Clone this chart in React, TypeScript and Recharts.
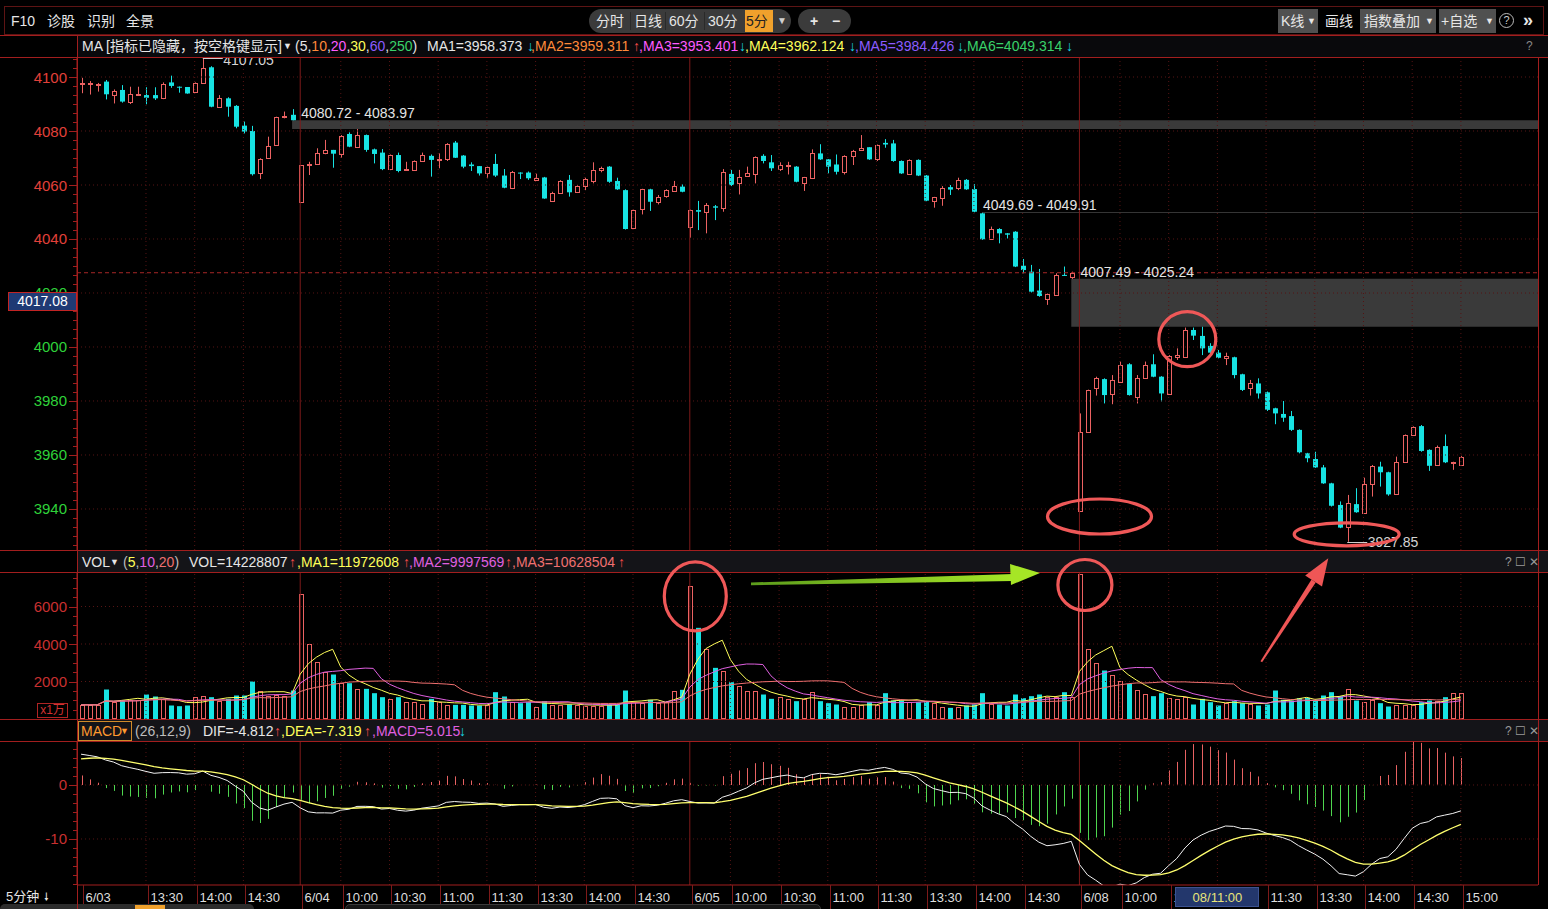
import React from 'react';
import { ComposedChart, Bar, Line, XAxis, YAxis, ReferenceLine, ReferenceArea, ReferenceDot } from 'recharts';

// ---------------- data (5-minute bars, 6/03 11:20 .. 6/08 15:00) ----------------
const opens = [
  4097.5, 4097.5, 4097.3, 4098.3, 4093.3, 4095.2, 4090.6, 4093.4, 4093.3, 4093.3,
  4092.1, 4098.0, 4096.4, 4096.3, 4094.6, 4097.7, 4103.6, 4089.0, 4092.1, 4089.3,
  4082.0, 4080.0, 4064.3, 4070.1, 4074.8, 4085.4, 4086.0,
  4053.6, 4067.4, 4067.8, 4071.7, 4073.0, 4071.5, 4078.9, 4074.0, 4078.5, 4073.2,
  4072.0, 4065.8, 4071.1, 4065.6, 4065.6, 4068.9, 4070.8, 4069.1, 4069.6, 4075.7,
  4070.9, 4067.6, 4067.0, 4064.6, 4067.8, 4063.5, 4058.8, 4064.6, 4064.6, 4061.9,
  4062.8, 4054.1, 4057.2, 4061.9, 4057.5, 4059.8, 4061.5, 4065.6, 4066.8, 4061.5,
  4058.1, 4044.0, 4051.0, 4058.4, 4053.8, 4056.0, 4057.9, 4059.4,
  4044.6, 4050.7, 4049.9, 4052.1, 4051.6, 4064.1, 4060.6, 4063.5, 4064.1, 4070.8,
  4068.4, 4065.8, 4067.2, 4066.8, 4060.9, 4062.7, 4071.7, 4069.5, 4067.6, 4064.9,
  4070.7, 4073.1, 4074.0, 4069.5, 4075.6, 4075.4, 4068.9, 4064.1, 4069.3, 4063.5,
  4054.0, 4055.1, 4059.2, 4058.8, 4061.9, 4058.5, 4049.5, 4040.0, 4043.7, 4042.1,
  4042.7, 4030.1, 4027.9, 4020.9, 4017.9, 4019.3, 4026.7, 4025.8,
  3939.3, 3968.6, 3984.7, 3988.1, 3982.7, 3987.1, 3993.6, 3981.6, 3988.6, 3993.6,
  3989.0, 3982.5, 3996.3, 3996.4, 4006.3, 4004.1, 4000.4, 3997.9, 3996.0, 3996.2,
  3989.9, 3984.7, 3986.5, 3983.2, 3977.3, 3975.2, 3974.4, 3969.3, 3960.6, 3958.5,
  3955.4, 3949.5, 3941.5, 3933.5, 3941.8, 3938.4, 3949.1, 3955.7, 3953.6, 3945.4,
  3957.5, 3967.4, 3970.7, 3961.9, 3956.3, 3963.3, 3957.0, 3956.3,
];
const highs = [
  4099.7, 4098.5, 4097.8, 4098.9, 4095.4, 4097.0, 4096.4, 4096.4, 4096.2, 4096.2,
  4098.0, 4100.5, 4096.5, 4096.3, 4098.0, 4107.05, 4104.0, 4093.3, 4092.5, 4089.6,
  4083.5, 4081.9, 4069.9, 4077.9, 4085.3, 4087.2, 4088.1,
  4067.4, 4068.6, 4073.6, 4076.7, 4073.0, 4078.5, 4079.5, 4080.72, 4078.7, 4073.5,
  4073.3, 4071.3, 4072.0, 4068.6, 4069.1, 4072.0, 4071.3, 4071.7, 4075.5, 4076.3,
  4071.1, 4068.4, 4067.0, 4066.8, 4071.5, 4065.9, 4065.2, 4064.7, 4065.0, 4064.2,
  4063.0, 4057.5, 4061.8, 4063.7, 4060.0, 4062.7, 4068.4, 4066.8, 4067.0, 4062.7,
  4058.4, 4050.9, 4058.6, 4058.6, 4056.3, 4058.4, 4061.5, 4060.2,
  4050.9, 4054.1, 4053.3, 4052.6, 4065.9, 4065.6, 4065.6, 4066.8, 4070.6, 4071.4,
  4071.1, 4068.4, 4068.6, 4067.0, 4063.0, 4073.2, 4075.1, 4069.6, 4071.3, 4071.0,
  4073.0, 4078.5, 4074.0, 4075.0, 4077.0, 4076.7, 4069.1, 4069.5, 4069.5, 4063.7,
  4055.6, 4059.6, 4060.0, 4062.7, 4062.2, 4060.3, 4049.69, 4044.6, 4044.0, 4042.2,
  4042.9, 4032.6, 4030.4, 4028.9, 4019.8, 4027.3, 4029.8, 4027.9,
  3975.4, 3984.2, 3989.0, 3988.4, 3989.6, 3994.6, 3994.0, 3989.6, 3994.6, 3997.3,
  3989.2, 3997.0, 3999.5, 4007.2, 4007.2, 4007.49, 4001.4, 3998.9, 3997.9, 3996.4,
  3990.1, 3987.8, 3988.4, 3983.5, 3977.5, 3980.0, 3976.3, 3969.5, 3960.8, 3961.2,
  3956.3, 3949.7, 3942.8, 3945.2, 3947.7, 3951.6, 3956.3, 3957.5, 3953.8, 3959.4,
  3967.6, 3970.6, 3971.1, 3962.1, 3963.5, 3967.6, 3957.5, 3959.6,
];
const lows = [
  4094.0, 4093.5, 4094.6, 4091.7, 4090.2, 4090.5, 4090.0, 4093.3, 4089.9, 4091.5,
  4091.8, 4096.0, 4094.2, 4093.8, 4094.6, 4097.7, 4088.8, 4088.8, 4085.3, 4081.0,
  4079.1, 4063.5, 4062.2, 4069.9, 4074.6, 4084.7, 4083.97,
  4053.4, 4063.7, 4067.6, 4071.4, 4066.4, 4070.1, 4074.0, 4074.0, 4072.3, 4068.0,
  4065.5, 4065.5, 4064.7, 4065.6, 4065.4, 4068.6, 4063.1, 4066.2, 4068.9, 4070.0,
  4066.2, 4065.2, 4063.5, 4062.5, 4063.0, 4058.8, 4058.5, 4062.2, 4061.9, 4061.5,
  4054.9, 4053.9, 4056.8, 4055.7, 4057.3, 4058.1, 4060.6, 4064.7, 4060.8, 4058.2,
  4043.5, 4043.7, 4049.1, 4050.4, 4052.8, 4055.3, 4057.5, 4057.3,
  4040.5, 4043.3, 4042.1, 4047.0, 4050.1, 4059.6, 4056.5, 4063.3, 4060.6, 4068.0,
  4065.2, 4065.2, 4063.9, 4061.0, 4057.8, 4062.5, 4069.3, 4064.3, 4063.9, 4063.9,
  4067.4, 4072.6, 4069.3, 4068.9, 4073.8, 4068.6, 4064.1, 4063.9, 4063.3, 4054.0,
  4051.6, 4052.3, 4056.3, 4058.1, 4058.2, 4049.91, 4039.7, 4039.9, 4038.4, 4040.2,
  4029.6, 4027.3, 4020.2, 4018.6, 4015.6, 4019.0, 4026.3, 4025.24,
  3939.3, 3968.4, 3982.0, 3979.1, 3978.8, 3986.8, 3982.0, 3979.1, 3988.4, 3988.8,
  3979.8, 3982.3, 3995.2, 3996.2, 4002.6, 3997.0, 3997.7, 3995.8, 3993.3, 3988.4,
  3983.7, 3982.0, 3980.9, 3976.3, 3971.4, 3972.3, 3968.9, 3960.6, 3957.3, 3955.2,
  3949.3, 3940.9, 3932.9, 3927.85, 3938.6, 3938.2, 3944.6, 3948.3, 3944.9, 3945.2,
  3957.3, 3967.2, 3961.2, 3954.1, 3956.0, 3957.0, 3954.5, 3956.0,
];
const closes = [
  4097.8, 4097.6, 4097.5, 4093.6, 4094.9, 4090.9, 4093.6, 4093.6, 4092.3, 4092.1,
  4097.3, 4096.7, 4096.2, 4093.9, 4097.7, 4103.2, 4089.0, 4092.1, 4089.0, 4081.6,
  4079.8, 4064.0, 4069.5, 4074.6, 4085.1, 4085.6, 4084.0,
  4067.4, 4067.6, 4071.7, 4073.0, 4071.6, 4078.1, 4074.2, 4078.5, 4073.0, 4071.5,
  4065.9, 4071.1, 4065.2, 4065.8, 4068.9, 4071.1, 4069.3, 4069.6, 4075.1, 4070.1,
  4066.8, 4067.0, 4064.3, 4066.5, 4063.5, 4059.0, 4064.9, 4064.4, 4062.5, 4062.7,
  4055.0, 4057.2, 4061.6, 4057.3, 4059.7, 4062.2, 4065.6, 4066.4, 4061.2, 4058.4,
  4043.7, 4050.7, 4058.4, 4053.8, 4055.4, 4058.1, 4059.6, 4057.5,
  4050.7, 4050.1, 4052.6, 4051.6, 4064.9, 4060.0, 4063.1, 4064.3, 4070.2, 4068.9,
  4066.2, 4067.4, 4067.4, 4061.2, 4062.8, 4072.0, 4069.5, 4066.8, 4064.9, 4070.7,
  4072.7, 4073.6, 4069.5, 4074.8, 4075.0, 4068.9, 4064.3, 4069.3, 4063.5, 4054.2,
  4055.4, 4059.0, 4058.3, 4061.9, 4058.4, 4050.1, 4039.9, 4043.7, 4042.1, 4041.6,
  4029.8, 4028.5, 4020.5, 4018.9, 4019.6, 4026.7, 4026.5, 4027.5,
  3968.6, 3984.0, 3988.6, 3982.2, 3987.7, 3993.3, 3982.2, 3988.6, 3993.3, 3989.0,
  3982.8, 3996.5, 3997.0, 4006.3, 4004.2, 3999.5, 3997.9, 3996.0, 3996.7, 3989.6,
  3984.1, 3986.5, 3982.8, 3976.7, 3975.4, 3973.8, 3969.3, 3961.0, 3958.8, 3955.4,
  3949.5, 3941.2, 3933.1, 3942.1, 3938.8, 3949.1, 3956.0, 3953.6, 3945.4, 3957.5,
  3967.4, 3970.2, 3961.5, 3956.0, 3962.8, 3957.3, 3957.3, 3959.4,
];
// volume in 万 (x1万)
const volumes = [
  755, 755, 755, 1573, 897, 986, 1022, 1040, 1306, 1200,
  1075, 720, 684, 720, 1164, 1253, 1164, 986, 1075, 1253,
  1253, 2000, 1519, 1218, 1289, 1253, 1519,
  6676, 4009, 3031, 2497, 2373, 1911, 1911, 1608, 1608, 1377,
  1164, 1075, 1164, 897, 897, 809, 1075, 897, 773, 755,
  755, 720, 720, 773, 1430, 1200, 897, 844, 897, 666,
  951, 773, 755, 773, 755, 720, 720, 720, 773, 773,
  1519, 897, 844, 1022, 844, 897, 1519, 1555,
  7120, 4862, 3742, 2728, 2550, 1960, 1785, 1519, 1480, 1306,
  1075, 1164, 1075, 951, 1075, 1430, 951, 844, 773, 666,
  666, 773, 897, 773, 1377, 986, 986, 897, 897, 951,
  844, 666, 595, 631, 720, 773, 1377, 809, 773, 720,
  1306, 1110, 1218, 1306, 1164, 1164, 1430, 1200,
  7707, 3742, 2995, 2586, 2373, 2017, 1875, 1555, 1342, 1218,
  1377, 1110, 1075, 1164, 773, 1075, 897, 720, 844, 951,
  844, 809, 720, 773, 1519, 1022, 986, 1110, 1128, 986,
  1253, 1430, 1218, 1608, 986, 897, 1022, 844, 666, 773,
  773, 773, 897, 986, 951, 1164, 1377, 1395,
];

const timeTickIndex = [0, 8, 14, 20, 27, 32, 38, 44, 50, 56, 62, 68, 75, 80, 86, 92, 98, 104, 110, 116, 123, 128, 134, 140, 146, 152, 158, 164, 170];
const timeTickLabels = ['6/03', '13:30', '14:00', '14:30', '6/04', '10:00', '10:30', '11:00', '11:30', '13:30', '14:00', '14:30', '6/05', '10:00', '10:30', '11:00', '11:30', '13:30', '14:00', '14:30', '6/08', '10:00', '10:30', '11:00', '11:30', '13:30', '14:00', '14:30', '15:00'];
const dayStartIndex = [27, 75, 123];

const priceTicks = [3940, 3960, 3980, 4000, 4020, 4040, 4060, 4080, 4100];
const volTicks = [2000, 4000, 6000];
const macdTicks = [-10, 0];

const gapBands = [
  { from: 26, lo: 4080.72, hi: 4083.97, labelAt: 27 },
  { from: 111, lo: 4049.69, hi: 4049.91, labelAt: 111 },
  { from: 122, lo: 4007.49, hi: 4025.24, labelAt: 123 },
];
const highMark = { i: 15, value: 4107.05 };
const lowMark = { i: 156, value: 3927.85 };
const cursorPrice = 4017.08;
const cursorIndex = 140;
const cursorLabel = '08/11:00';
const prevCloseIndex = 122;
// MACD state carried in from bars before the visible window (offsets from first close)
const macdSeed = { ema12: -3, ema26: -8.9, dea: 4.6 };

// ---------------- derived rows ----------------
const sma = (arr: number[], n: number, i: number) => {
  const s = Math.max(0, i - n + 1);
  let sum = 0;
  for (let k = s; k <= i; k++) sum += arr[k];
  return sum / (i - s + 1);
};
const rows = (() => {
  let e12 = closes[0] + macdSeed.ema12;
  let e26 = closes[0] + macdSeed.ema26;
  let dea = macdSeed.dea;
  return closes.map((c, i) => {
    e12 = e12 + (2 / 13) * (c - e12);
    e26 = e26 + (2 / 27) * (c - e26);
    const dif = e12 - e26;
    dea = dea + (2 / 10) * (dif - dea);
    return {
      i, o: opens[i], h: highs[i], l: lows[i], c, v: volumes[i],
      range: [lows[i], highs[i]],
      vma5: sma(volumes, 5, i), vma10: sma(volumes, 10, i), vma20: sma(volumes, 20, i),
      dif, dea, macd: 2 * (dif - dea),
    };
  });
})();

// ---------------- styles ----------------
const FONT = "'Liberation Sans', 'Noto Sans CJK SC', Arial, sans-serif";
const UP = '#ec6262';
const DOWN = '#17e3e3';
const AXIS = '#a21e1e';
const GRID = '#561414';
const DAY = '#7e1a1a';
const X_DOMAIN: [number, number] = [-0.5, 179.5];
const PRICE_DOMAIN: [number, number] = [3924.81, 4107.41];
const VOL_DOMAIN: [number, number] = [0, 7787];
const MACD_DOMAIN: [number, number] = [-18.52, 7.96];
const prevClose = closes[prevCloseIndex];

const minorTicks = (lo: number, hi: number, base: number, step: number) => {
  const out: number[] = [];
  const k0 = Math.ceil((lo - base) / step);
  for (let k = k0; base + k * step <= hi; k++) out.push(+(base + k * step).toFixed(4));
  return out;
};
const priceAllTicks = minorTicks(PRICE_DOMAIN[0], PRICE_DOMAIN[1], 3940, 20 / 6);
const volAllTicks = minorTicks(0.001, VOL_DOMAIN[1], 0, 500);
const macdAllTicks = minorTicks(MACD_DOMAIN[0], MACD_DOMAIN[1], 0, 10 / 6);

const makeYTick = (majors: number[], color: (v: number) => string) => (props: any) => {
  const { x, y, payload } = props;
  const v = payload.value;
  const major = majors.some((m) => Math.abs(m - v) < 1e-3);
  const yy = Math.round(y) + 0.5;
  return (
    <g>
      <line x1={x + 9 - (major ? 8 : 4)} x2={x + 9} y1={yy} y2={yy} stroke={AXIS} />
      {major && (
        <text x={x - 1} y={y} textAnchor="end" dominantBaseline="central" fill={color(v)} fontSize={15} fontFamily={FONT}>
          {String(Math.round(v))}
        </text>
      )}
    </g>
  );
};
const PriceTick = makeYTick(priceTicks, (v) => (v > prevClose ? '#e2403a' : '#2fd23a'));
const VolTick = makeYTick(volTicks, () => '#c83030');
const MacdTick = makeYTick(macdTicks, () => '#c83030');

// crosshair price tag: drawn by a second (right-hand) axis so it sits above the left price labels
const CursorPriceTick = (props: any) => {
  const { y, payload } = props;
  if (y == null) return null;
  return (
    <g>
      <rect x={8.5} y={Math.round(y) - 8.5} width={68} height={18} fill="#1f3a74" stroke="#c22424" />
      <text x={42.5} y={y + 0.5} textAnchor="middle" dominantBaseline="central" fill="#ffffff" fontSize={14} fontFamily={FONT}>
        {Number(payload.value).toFixed(2)}
      </text>
    </g>
  );
};

function Candle(props: any) {
  const { x, y, width, height, payload } = props;
  if (!payload || x == null || y == null) return null;
  const { o, h, l, c } = payload;
  const top = Math.min(y, y + height);
  const span = Math.abs(height);
  const k = h > l ? span / (h - l) : 0;
  const py = (v: number) => top + (h - v) * k;
  const up = c >= o;
  const col = up ? UP : DOWN;
  const cx = Math.round(x + width / 2) + 0.5;
  const b1 = Math.min(py(o), py(c));
  const b2 = Math.max(py(o), py(c));
  return (
    <g>
      <line x1={cx} x2={cx} y1={top} y2={top + span} stroke={col} strokeWidth={1} />
      {up ? (
        <rect x={cx - 2} y={Math.round(b1) + 0.5} width={4} height={Math.max(Math.round(b2) - Math.round(b1), 1)} fill="#000" stroke={col} strokeWidth={1} />
      ) : (
        <rect x={cx - 2.5} y={b1} width={5} height={Math.max(b2 - b1, 1)} fill={col} />
      )}
    </g>
  );
}

function VolBar(props: any) {
  const { x, y, width, height, payload } = props;
  if (!payload || x == null || y == null) return null;
  const up = payload.c >= payload.o;
  const cx = Math.round(x + width / 2) + 0.5;
  const top = Math.min(y, y + height);
  const bot = Math.max(y, y + height);
  if (up)
    return <rect x={cx - 2} y={Math.round(top) + 0.5} width={4} height={Math.max(Math.round(bot) - Math.round(top) - 1, 1)} fill="none" stroke={UP} />;
  return <rect x={cx - 2.5} y={top} width={5} height={bot - top} fill={DOWN} />;
}

function MacdBar(props: any) {
  const { x, y, width, height, payload } = props;
  if (!payload || x == null || y == null) return null;
  const top = Math.min(y, y + height);
  const bot = Math.max(y, y + height);
  const cx = Math.round(x + width / 2) + 0.5;
  return <line x1={cx} x2={cx} y1={top} y2={bot} stroke={payload.macd >= 0 ? '#e86262' : '#4fd64f'} />;
}

function XTick(props: any) {
  const { x, y, payload } = props;
  const k = timeTickIndex.indexOf(payload.value);
  if (k < 0) return null;
  if (payload.value === cursorIndex) {
    return (
      <g>
        <rect x={Math.round(x) - 41.5} y={y + 2.5} width={83} height={19} fill="#23376c" stroke="#3c5290" />
        <text x={x} y={y + 12} textAnchor="middle" dominantBaseline="central" fill="#e8e47a" fontSize={13} fontFamily={FONT}>
          {cursorLabel}
        </text>
      </g>
    );
  }
  const lx = Math.round(x) + 2.5;
  return (
    <g>
      <line x1={lx} x2={lx} y1={y} y2={y + 24} stroke={DAY} />
      <text x={lx + 2} y={y + 12} dominantBaseline="central" fill="#dedede" fontSize={13} fontFamily={FONT}>
        {timeTickLabels[k]}
      </text>
    </g>
  );
}

const markText = (txt: string, dy: number) => (p: any) => (
  <g>
    <line x1={p.cx} x2={p.cx + 20} y1={Math.round(p.cy) + 0.5} y2={Math.round(p.cy) + 0.5} stroke="#cfcfcf" />
    <text x={p.cx + 20.5} y={p.cy + dy} dominantBaseline="central" fill="#d4d4d4" fontSize={14} fontFamily={FONT}>
      {txt}
    </text>
  </g>
);

const bandText = (txt: string) => (p: any) => (
  <text x={p.cx + 1} y={p.cy - 7} dominantBaseline="central" fill="#e4e4e4" fontSize={14} fontFamily={FONT}>
    {txt}
  </text>
);

const gridIdx = timeTickIndex.filter((i) => i !== 0 && !dayStartIndex.includes(i));

const commonX = <XAxis type="number" dataKey="i" domain={X_DOMAIN} allowDataOverflow hide />;
const vGrid = gridIdx.map((i) => <ReferenceLine key={'vg' + i} x={i} stroke={GRID} strokeDasharray="1 3" />);
const dayLines = dayStartIndex.map((i) => <ReferenceLine key={'d' + i} x={i} stroke={DAY} />);
const MARGIN = { top: 0, right: 10, bottom: 0, left: 0 };
const PRICE_MARGIN = { top: 0, right: 0, bottom: 0, left: 0 };

// ---------------- UI helpers ----------------
const Txt = ({ x, cy, color = '#e6e6e6', size = 14, children, bold }: any) => (
  <div style={{ position: 'absolute', left: x, top: cy - 10, height: 20, lineHeight: '20px', fontSize: size, color, whiteSpace: 'nowrap', fontWeight: bold ? 700 : 400 }}>
    {children}
  </div>
);
const HLine = ({ y, x1 = 0, x2 = 1548, c = AXIS }: any) => (
  <div style={{ position: 'absolute', left: x1, top: y, width: x2 - x1, height: 1, background: c }} />
);
const VLine = ({ x, y1, y2, c = AXIS }: any) => (
  <div style={{ position: 'absolute', left: x, top: y1, width: 1, height: y2 - y1, background: c }} />
);
const Box = ({ x, y, w, h, bg, r = 0, border }: any) => (
  <div style={{ position: 'absolute', left: x, top: y, width: w, height: h, background: bg, borderRadius: r, border, boxSizing: 'border-box' }} />
);

const UPA = '#ff4a4a';
const DNA = '#18d8e8';

export default function App() {
  return (
    <div style={{ position: 'absolute', left: 0, top: 0, width: 1548, height: 909, background: '#000', overflow: 'hidden', fontFamily: FONT }}>
      {/* toolbar */}
      <div style={{ position: 'absolute', left: 4, top: 6, width: 1540, height: 29, border: '1px solid #5e1414', boxSizing: 'border-box' }} />
      <Txt x={11} cy={21}>F10</Txt>
      <Txt x={47} cy={21}>诊股</Txt>
      <Txt x={87} cy={21}>识别</Txt>
      <Txt x={126} cy={21}>全景</Txt>
      <Box x={589} y={9} w={202} h={24} bg="#3b3b3b" r={12} />
      <Box x={630} y={12} w={1} h={18} bg="#2a2a2a" />
      <Box x={665} y={12} w={1} h={18} bg="#2a2a2a" />
      <Box x={704} y={12} w={1} h={18} bg="#2a2a2a" />
      <Txt x={596} cy={21}>分时</Txt>
      <Txt x={634} cy={21}>日线</Txt>
      <Txt x={669} cy={21}>60分</Txt>
      <Txt x={708} cy={21}>30分</Txt>
      <Box x={745} y={10} w={28} h={22} bg="#f0a12c" />
      <Txt x={746} cy={21} color="#222">5分</Txt>
      <Txt x={777} cy={21} size={10} color="#d0d0d0">▼</Txt>
      <Box x={798} y={9} w={53} h={24} bg="#3b3b3b" r={12} />
      <Txt x={810} cy={21} bold>+</Txt>
      <Txt x={832} cy={21} bold>−</Txt>
      <Box x={1278} y={9} w={40} h={24} bg="#505050" />
      <Txt x={1281} cy={21}>K线</Txt>
      <Txt x={1307} cy={21} size={9}>▼</Txt>
      <Txt x={1325} cy={21}>画线</Txt>
      <Box x={1360} y={9} w={76} h={24} bg="#505050" />
      <Txt x={1364} cy={21}>指数叠加</Txt>
      <Txt x={1425} cy={21} size={9}>▼</Txt>
      <Box x={1439} y={9} w={57} h={24} bg="#505050" />
      <Txt x={1441} cy={21}>+自选</Txt>
      <Txt x={1485} cy={21} size={9}>▼</Txt>
      <div style={{ position: 'absolute', left: 1499, top: 13, width: 15, height: 15, border: '1px solid #bbb', borderRadius: '50%', boxSizing: 'border-box', color: '#ccc', fontSize: 11, lineHeight: '13px', textAlign: 'center' }}>?</div>
      <Txt x={1523} cy={20} size={18} bold>»</Txt>

      {/* header rows */}
      <Box x={78} y={36} w={1470} h={21} bg="#09090c" />
      <Box x={78} y={551} w={1470} h={21} bg="#141418" />
      <Box x={78} y={720} w={1470} h={21} bg="#141418" />

      {/* price header */}
      <Txt x={82} cy={46} size={14}>MA [指标已隐藏，按空格键显示]</Txt>
      <Txt x={283} cy={46} size={9}>▼</Txt>
      <div style={{ position: 'absolute', left: 295, top: 36, height: 20, lineHeight: '20px', fontSize: 14, whiteSpace: 'nowrap', color: '#e6e6e6' }}>
        (5,<span style={{ color: '#ff8a3a' }}>10</span>,<span style={{ color: '#ff5cff' }}>20</span>,<span style={{ color: '#ffff5a' }}>30</span>,<span style={{ color: '#8c5cff' }}>60</span>,<span style={{ color: '#3ad26a' }}>250</span>)
      </div>
      <Txt x={427} cy={46} color="#e6e6e6">MA1=3958.373</Txt>
      <Txt x={527} cy={46} color={DNA}>↓</Txt>
      <Txt x={531} cy={46} color="#ff8a3a">,MA2=3959.311</Txt>
      <Txt x={633} cy={46} color={UPA}>↑</Txt>
      <Txt x={639} cy={46} color="#ff5cff">,MA3=3953.401</Txt>
      <Txt x={739} cy={46} color={DNA}>↓</Txt>
      <Txt x={745} cy={46} color="#ffff5a">,MA4=3962.124</Txt>
      <Txt x={849} cy={46} color={DNA}>↓</Txt>
      <Txt x={855} cy={46} color="#8c5cff">,MA5=3984.426</Txt>
      <Txt x={957} cy={46} color={DNA}>↓</Txt>
      <Txt x={963} cy={46} color="#3ad26a">,MA6=4049.314</Txt>
      <Txt x={1066} cy={46} color={DNA}>↓</Txt>
      <Txt x={1526} cy={46} color="#888" size={12}>?</Txt>

      {/* volume header */}
      <Txt x={82} cy={562}>VOL</Txt>
      <Txt x={110} cy={562} size={9}>▼</Txt>
      <div style={{ position: 'absolute', left: 123, top: 552, height: 20, lineHeight: '20px', fontSize: 14, whiteSpace: 'nowrap', color: '#bdbdbd' }}>
        (<span style={{ color: '#ffff5a' }}>5</span>,<span style={{ color: '#e060e0' }}>10</span>,<span style={{ color: '#f07070' }}>20</span>)
      </div>
      <Txt x={189} cy={562}>VOL=14228807</Txt>
      <Txt x={289} cy={562} color={UPA}>↑</Txt>
      <Txt x={297} cy={562} color="#ffff5a">,MA1=11972608</Txt>
      <Txt x={403} cy={562} color={UPA}>↑</Txt>
      <Txt x={409} cy={562} color="#e060e0">,MA2=9997569</Txt>
      <Txt x={505} cy={562} color={UPA}>↑</Txt>
      <Txt x={512} cy={562} color="#f07070">,MA3=10628504</Txt>
      <Txt x={618} cy={562} color={UPA}>↑</Txt>
      <Txt x={1505} cy={562} color="#9a9a9a" size={12}>? ☐ ✕</Txt>

      {/* macd header */}
      <div style={{ position: 'absolute', left: 78, top: 721, width: 54, height: 20, border: '1px solid #d08a2a', boxSizing: 'border-box' }} />
      <Txt x={81} cy={731} color="#ff9a30">MACD</Txt>
      <Txt x={120} cy={731} size={9} color="#ff9a30">▼</Txt>
      <Txt x={135} cy={731} color="#bdbdbd">(26,12,9)</Txt>
      <Txt x={203} cy={731}>DIF=-4.812</Txt>
      <Txt x={274} cy={731} color={UPA}>↑</Txt>
      <Txt x={281} cy={731} color="#ffff5a">,DEA=-7.319</Txt>
      <Txt x={364} cy={731} color={UPA}>↑</Txt>
      <Txt x={372} cy={731} color="#e060e0">,MACD=5.015</Txt>
      <Txt x={459} cy={731} color={DNA}>↓</Txt>
      <Txt x={1505} cy={731} color="#9a9a9a" size={12}>? ☐ ✕</Txt>

      {/* price chart */}
      <div style={{ position: 'absolute', left: 0, top: 57 }}>
        <ComposedChart width={1548} height={493} data={rows} margin={PRICE_MARGIN}>
          {commonX}
          <YAxis type="number" domain={PRICE_DOMAIN} allowDataOverflow width={77} ticks={priceAllTicks} interval={0} tickLine={false} tickSize={8} tickMargin={1} axisLine={{ stroke: AXIS }} tick={PriceTick} />
          <YAxis yAxisId="cursor" orientation="right" type="number" domain={PRICE_DOMAIN} allowDataOverflow width={10} ticks={[cursorPrice]} interval={0} tickLine={false} tickSize={0} tickMargin={0} axisLine={false} tick={CursorPriceTick} />
          {priceTicks.map((v) => <ReferenceLine key={'h' + v} y={v} stroke={GRID} strokeDasharray="1 3" />)}
          {vGrid}
          {dayLines}
          <ReferenceLine y={prevClose} stroke="#a62626" strokeDasharray="4 3" />
          {gapBands.map((b, k) => (
            <ReferenceArea key={'b' + k} x1={b.from} x2={X_DOMAIN[1]} y1={b.lo} y2={b.hi} fill={k === 1 ? '#6a6a6a' : '#3a3a3a'} fillOpacity={1} stroke="none" />
          ))}
          {gapBands.map((b, k) => (
            <ReferenceDot key={'bl' + k} x={b.labelAt} y={b.hi} r={0} shape={bandText(`${b.lo.toFixed(2)} - ${b.hi.toFixed(2)}`)} />
          ))}
          <Bar dataKey="range" barSize={5} shape={(p: any) => <Candle {...p} />} isAnimationActive={false} />
          <ReferenceDot x={highMark.i} y={highMark.value} r={0} shape={markText(highMark.value.toFixed(2), 2)} />
          <ReferenceDot x={lowMark.i} y={lowMark.value} r={0} shape={markText(lowMark.value.toFixed(2), 0)} />
        </ComposedChart>
      </div>

      {/* volume chart */}
      <div style={{ position: 'absolute', left: 0, top: 573 }}>
        <ComposedChart width={1548} height={146} data={rows} margin={MARGIN}>
          {commonX}
          <YAxis type="number" domain={VOL_DOMAIN} allowDataOverflow width={77} ticks={volAllTicks} interval={0} tickLine={false} tickSize={8} tickMargin={1} axisLine={{ stroke: AXIS }} tick={VolTick} />
          {volTicks.map((v) => <ReferenceLine key={'vh' + v} y={v} stroke={GRID} strokeDasharray="1 3" />)}
          {vGrid}
          {dayLines}
          <Bar dataKey="v" barSize={5} shape={(p: any) => <VolBar {...p} />} isAnimationActive={false} />
          <Line dataKey="vma5" stroke="#ffff5a" strokeWidth={1} dot={false} isAnimationActive={false} />
          <Line dataKey="vma10" stroke="#e060e0" strokeWidth={1} dot={false} isAnimationActive={false} />
          <Line dataKey="vma20" stroke="#f07070" strokeWidth={1} dot={false} isAnimationActive={false} />
        </ComposedChart>
      </div>
      <div style={{ position: 'absolute', left: 37, top: 703, width: 31, height: 15, border: '1px solid #b02424', boxSizing: 'border-box', color: '#d23232', fontSize: 12, lineHeight: '13px', textAlign: 'center' }}>x1万</div>

      {/* macd chart + time axis */}
      <div style={{ position: 'absolute', left: 0, top: 742 }}>
        <ComposedChart width={1548} height={167} data={rows} margin={MARGIN}>
          <XAxis type="number" dataKey="i" domain={X_DOMAIN} allowDataOverflow ticks={timeTickIndex} interval={0} height={24} tickLine={false} tickSize={0} tickMargin={0} axisLine={{ stroke: AXIS }} tick={XTick} />
          <YAxis type="number" domain={MACD_DOMAIN} allowDataOverflow width={77} ticks={macdAllTicks} interval={0} tickLine={false} tickSize={8} tickMargin={1} axisLine={{ stroke: AXIS }} tick={MacdTick} />
          {macdTicks.map((v) => <ReferenceLine key={'mh' + v} y={v} stroke={GRID} strokeDasharray="1 3" />)}
          {vGrid}
          {dayLines}
          <Bar dataKey="macd" barSize={1} shape={(p: any) => <MacdBar {...p} />} isAnimationActive={false} />
          <Line dataKey="dif" stroke="#f2f2f2" strokeWidth={1} dot={false} isAnimationActive={false} />
          <Line dataKey="dea" stroke="#ffff6e" strokeWidth={1.3} dot={false} isAnimationActive={false} />
        </ComposedChart>
      </div>
      <Txt x={6} cy={897} size={13}>5分钟</Txt>
      <Txt x={44} cy={897} size={11}>🠗</Txt>
      <Box x={0} y={904} w={254} h={10} bg="#2c2c2c" r={5} />
      <Box x={135} y={905} w={30} h={6} bg="#f0a12c" />
      <Box x={345} y={904} w={476} h={10} bg="#161616" r={5} border="1px solid #3a3a3a" />

      {/* frame lines */}
      <HLine y={35} />
      <HLine y={57} />
      <HLine y={550} />
      <HLine y={572} />
      <HLine y={719} />
      <HLine y={741} />
      <VLine x={77} y1={35} y2={909} />
      <VLine x={1538} y1={57} y2={885} />

      {/* hand-drawn annotations */}
      <svg width={1548} height={909} style={{ position: 'absolute', left: 0, top: 0, pointerEvents: 'none' }}>
        <defs>
          <linearGradient id="greenArrow" x1="0" x2="1" y1="0" y2="0">
            <stop offset="0" stopColor="#5c9c1c" />
            <stop offset="1" stopColor="#a6e626" />
          </linearGradient>
        </defs>
        <g fill="none" stroke="#ef5858" strokeWidth={3.2}>
          <ellipse cx={1099.5} cy={516.5} rx={52} ry={17.5} />
          <ellipse cx={1187.3} cy={339.2} rx={28.5} ry={27.5} />
          <ellipse cx={1346.7} cy={534.3} rx={52.5} ry={11.5} />
          <ellipse cx={695.3} cy={596.3} rx={31} ry={34.5} />
          <ellipse cx={1084.9} cy={585} rx={27} ry={25.5} />
        </g>
        <polygon points="751,582.5 1013,574 1013,581 751,585.2" fill="url(#greenArrow)" />
        <polygon points="1010,564 1040,573 1011,585" fill="#a6e626" />
        <polygon points="1260.5,661.2 1262.1,662.2 1315.7,582.4 1311.5,579.6" fill="#ef5656" />
        <polygon points="1305.2,575.6 1328.3,558.3 1322,586.4" fill="#ef5656" />
      </svg>
    </div>
  );
}
